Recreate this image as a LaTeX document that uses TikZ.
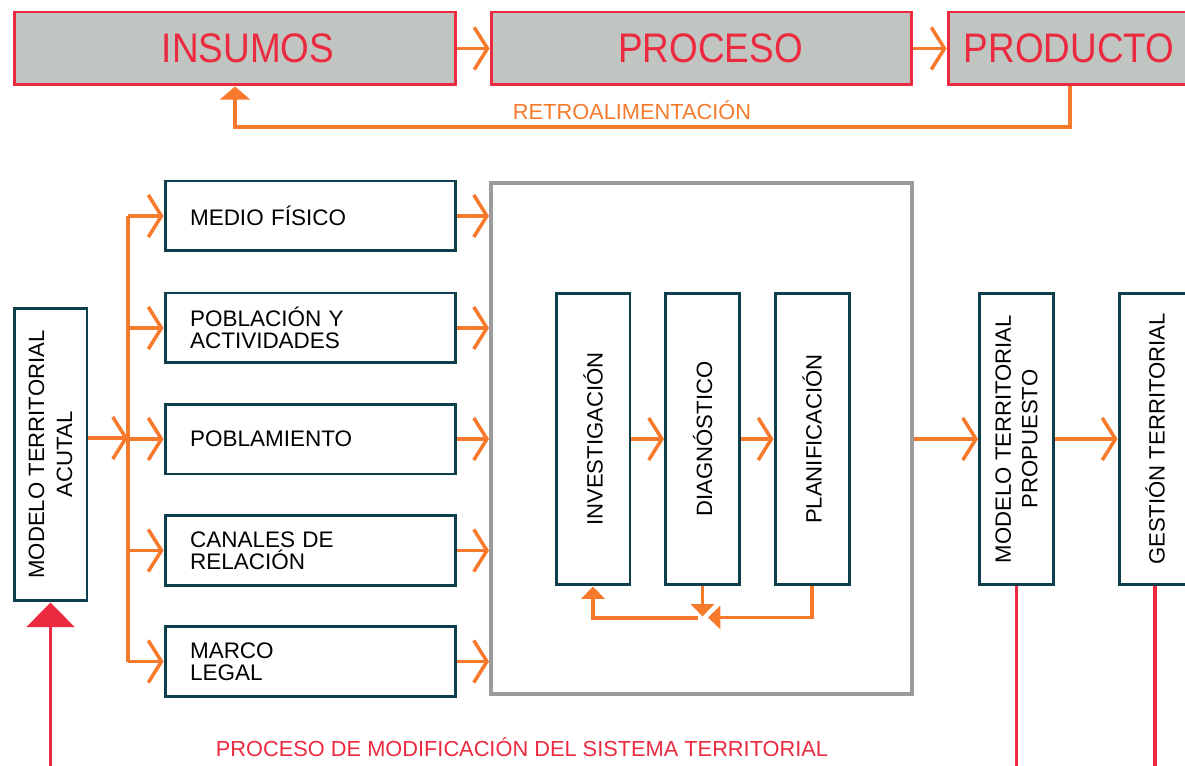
\documentclass[tikz,border=0pt]{standalone}
\usepackage{graphicx}
\usepackage{fontspec}
\setmainfont{Liberation Sans}
\usetikzlibrary{arrows.meta}
\definecolor{rojo}{HTML}{EC2A3F}
\definecolor{naranja}{HTML}{F7792C}
\definecolor{azul}{HTML}{0E3F4D}
\definecolor{gris}{HTML}{C0C5C2}
\definecolor{grisb}{HTML}{9B9B9B}
\newcommand{\cabtxt}[1]{\scalebox{1}[1.12]{\fontsize{21}{25}\selectfont #1}}

\begin{document}
\begin{tikzpicture}[x=0.02cm,y=-0.02cm,
    cab/.style={draw=rojo,fill=gris,line width=1.7pt,minimum height=1.46cm,inner sep=0pt,text=rojo},
    caja/.style={draw=azul,line width=1.7pt,fill=white,inner sep=0pt},
    fac/.style={caja,minimum height=1.4cm,text width=4.82cm,inner xsep=0.5cm,align=left,font=\fontsize{12.8}{12.5}\selectfont},
    vert/.style={caja,rotate=90,minimum width=5.84cm,minimum height=1.48cm,align=center,font=\fontsize{12.6}{15}\selectfont},
    flecha/.style={draw=naranja,line width=2pt,-{Straight Barb[length=7.5pt,width=24pt]}},
    flechat/.style={draw=naranja,line width=2.1pt,-{Triangle[length=7pt,width=13pt]}},
    linea/.style={draw=naranja,line width=2pt},
    rlinea/.style={draw=rojo,line width=2.2pt}]
  \useasboundingbox (0,0) rectangle (1185,766);
  % cabecera
  \node[cab,minimum width=8.84cm] (ins) at (235,48.5) {\hspace{0.52cm}\cabtxt{INSUMOS}};
  \node[cab,minimum width=8.42cm] (pro) at (701.5,48.5) {\hspace{0.36cm}\cabtxt{PROCESO}};
  \node[cab,minimum width=4.84cm] (prd) at (1069,48.5) {\cabtxt{PRODUCTO}};
  \draw[flecha] (ins) -- (pro); \draw[flecha] (pro) -- (prd);
  \coordinate (retro) at (1070,127);
  \draw[naranja,line width=2pt,-{Triangle[length=7.5pt,width=17pt]}] (prd.south -| retro)
    -- (retro) -| (ins.south);
  \node[text=naranja,font=\fontsize{12.4}{15}\selectfont] (tretro) at (632,110) {RETROALIMENTACIÓN};
  % modelo actual y factores
  \node[vert,minimum width=5.86cm,minimum height=1.46cm,font=\fontsize{12.6}{16}\selectfont]
    (mta) at (50.5,454.5) {MODELO TERRITORIAL\\ACUTAL};
  \foreach \n/\y/\t in {f1/216/{MEDIO FÍSICO}, f2/328/{POBLACIÓN Y\\ACTIVIDADES},
    f3/439/{POBLAMIENTO}, f4/550.5/{CANALES DE\\RELACIÓN}, f5/661.5/{MARCO\\LEGAL}}
    \node[fac] (\n) at (310.5,\y) {\t};
  \node[draw=grisb,line width=2.3pt,minimum width=8.42cm,minimum height=10.22cm] (marco)
    at (701.5,438.5) {};
  \coordinate (bus) at (128,438);
  \draw[flecha] (mta.south |- bus) -- (bus);
  \draw[linea] (f1.west -| bus) -- (f5.west -| bus);
  \foreach \n in {f1,f2,f3,f4,f5} {
    \draw[flecha] (\n.west -| bus) -- (\n.west);
    \draw[flecha] (\n.east) -- (\n.east -| marco.west);
  }
  % etapas (nodos girados: west = abajo)
  \node[vert] (inv) at (593,439) {INVESTIGACIÓN};
  \node[vert] (dia) at (702.5,439) {DIAGNÓSTICO};
  \node[vert] (pla) at (812,439) {PLANIFICACIÓN};
  \draw[flecha] (inv) -- (dia); \draw[flecha] (dia) -- (pla);
  \coordinate (lazo) at (698,618);
  \draw[flechat] (dia.west) -- ++(0,30);
  \draw[flechat] (pla.west) -- ++(0,31) -- ++(-104,0);
  \draw[flechat] (lazo) -| (inv.west);
  % modelo propuesto y gestion
  \node[vert] (mtp) at (1016.5,439) {MODELO TERRITORIAL\\PROPUESTO};
  \node[vert,minimum height=1.44cm] (ges) at (1155,439) {GESTIÓN TERRITORIAL};
  \draw[flecha] (marco.east |- mtp) -- (mtp); \draw[flecha] (mtp) -- (ges);
  \coordinate (pie) at (0,780);
  \draw[rlinea] (mtp.west) -- (mtp.west |- pie);
  \draw[rlinea] (ges.west) -- (ges.west |- pie);
  \draw[rlinea,-{Triangle[length=14pt,width=27pt]}] (mta.west |- pie) -- (mta.west);
  \node[text=rojo,font=\fontsize{12.4}{15}\selectfont] (tproc) at (522,747)
    {PROCESO DE MODIFICACIÓN DEL SISTEMA TERRITORIAL};
\end{tikzpicture}
\end{document}
